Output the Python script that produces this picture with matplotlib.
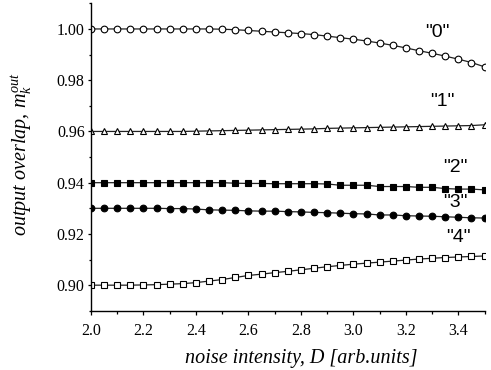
import numpy as np
import matplotlib
matplotlib.use("Agg")
import matplotlib.pyplot as plt
from matplotlib.ticker import MultipleLocator

plt.rcParams["mathtext.fontset"] = "custom"
plt.rcParams["mathtext.it"] = "Liberation Serif:italic"
plt.rcParams["mathtext.rm"] = "Liberation Serif"

# noise intensity D (step 0.05)
D = [2.00, 2.05, 2.10, 2.15, 2.20, 2.25, 2.30, 2.35, 2.40, 2.45,
     2.50, 2.55, 2.60, 2.65, 2.70, 2.75, 2.80, 2.85, 2.90, 2.95,
     3.00, 3.05, 3.10, 3.15, 3.20, 3.25, 3.30, 3.35, 3.40, 3.45, 3.50]

# output overlap for each pattern
m0 = [1.0000, 1.0000, 1.0000, 1.0000, 1.0000, 1.0000, 1.0000, 1.0000, 1.0000, 1.0000,
      0.9999, 0.9997, 0.9994, 0.9991, 0.9988, 0.9985, 0.9982, 0.9978, 0.9972, 0.9966,
      0.9960, 0.9953, 0.9945, 0.9936, 0.9926, 0.9915, 0.9905, 0.9894, 0.9882, 0.9869, 0.9852]
m1 = [0.9600, 0.9600, 0.9600, 0.9600, 0.9600, 0.9600, 0.9600, 0.9600, 0.9601, 0.9602,
      0.9603, 0.9604, 0.9605, 0.9606, 0.9607, 0.9608, 0.9609, 0.9610, 0.9612, 0.9613,
      0.9614, 0.9615, 0.9616, 0.9617, 0.9618, 0.9619, 0.9620, 0.9621, 0.9622, 0.9623, 0.9626]
m2 = [0.9400, 0.9400, 0.9400, 0.9400, 0.9400, 0.9400, 0.9400, 0.9400, 0.9400, 0.9400,
      0.9400, 0.9398, 0.9397, 0.9397, 0.9396, 0.9396, 0.9396, 0.9396, 0.9395, 0.9390,
      0.9390, 0.9390, 0.9385, 0.9385, 0.9385, 0.9382, 0.9382, 0.9377, 0.9375, 0.9375, 0.9372]
m3 = [0.9300, 0.9300, 0.9300, 0.9300, 0.9300, 0.9300, 0.9299, 0.9299, 0.9297, 0.9294,
      0.9293, 0.9292, 0.9290, 0.9289, 0.9289, 0.9287, 0.9286, 0.9284, 0.9283, 0.9281,
      0.9279, 0.9278, 0.9274, 0.9274, 0.9271, 0.9270, 0.9269, 0.9267, 0.9265, 0.9263, 0.9262]
m4 = [0.9000, 0.9000, 0.9000, 0.9000, 0.9001, 0.9002, 0.9004, 0.9006, 0.9010, 0.9016,
      0.9022, 0.9030, 0.9038, 0.9043, 0.9049, 0.9054, 0.9060, 0.9066, 0.9072, 0.9077,
      0.9082, 0.9086, 0.9090, 0.9094, 0.9098, 0.9102, 0.9105, 0.9108, 0.9110, 0.9112, 0.9114]

labels = ['"0"', '"1"', '"2"', '"3"', '"4"']
label_x = [3.32, 3.34, 3.39, 3.39, 3.40]
label_y = [0.9988, 0.9717, 0.9459, 0.9322, 0.9186]

fig = plt.figure(figsize=(4.91, 3.70), dpi=100)
ax = fig.add_axes([0.1853, 0.160, 0.8017, 0.831])

line_kw = dict(color="#222222", lw=0.9, ms=4.8, mec="black", mew=0.8)
ax.plot(D, m0, marker="o", mfc="white", **line_kw)
ax.plot(D, m1, marker="^", mfc="white", **line_kw)
ax.plot(D, m2, marker="s", mfc="black", ms=4.3, **{k: v for k, v in line_kw.items() if k != "ms"})
ax.plot(D, m3, marker="o", mfc="black", **line_kw)
ax.plot(D, m4, marker="s", mfc="white", ms=4.3, **{k: v for k, v in line_kw.items() if k != "ms"})

for t, x, y in zip(labels, label_x, label_y):
    ax.text(x, y, t, family="Liberation Sans", fontsize=14, ha="center", va="center")

ax.set_xlim(2.0, 3.5)
ax.set_ylim(0.89, 1.01)
ax.xaxis.set_major_locator(MultipleLocator(0.2))
ax.xaxis.set_minor_locator(MultipleLocator(0.1))
ax.yaxis.set_major_locator(MultipleLocator(0.02))
ax.yaxis.set_minor_locator(MultipleLocator(0.01))
ax.xaxis.set_major_formatter(plt.FormatStrFormatter("%.1f"))
ax.yaxis.set_major_formatter(plt.FormatStrFormatter("%.2f"))

for s in ["top", "right"]:
    ax.spines[s].set_visible(False)
for s in ["left", "bottom"]:
    ax.spines[s].set_linewidth(1.0)

ax.tick_params(axis="x", which="major", direction="out", length=3, width=0.9, pad=6)
ax.tick_params(axis="x", which="minor", direction="out", length=1.8, width=0.9)
ax.tick_params(axis="y", which="major", direction="out", length=2.5, width=0.9, pad=2)
ax.tick_params(axis="y", which="minor", direction="out", length=1.5, width=0.9)
for lab in ax.get_xticklabels() + ax.get_yticklabels():
    lab.set_family("Liberation Serif")
    lab.set_fontsize(11.5)

ax.set_xlabel("noise intensity, D [arb.units]", family="Liberation Serif",
              style="italic", fontsize=14.5)
ax.xaxis.set_label_coords(0.535, -0.125)
ax.set_ylabel(r"output overlap, $m_k^{out}$", family="Liberation Serif",
              style="italic", fontsize=14.5)
ax.yaxis.set_label_coords(-0.145, 0.51)

fig.savefig("out.png", dpi=100)
